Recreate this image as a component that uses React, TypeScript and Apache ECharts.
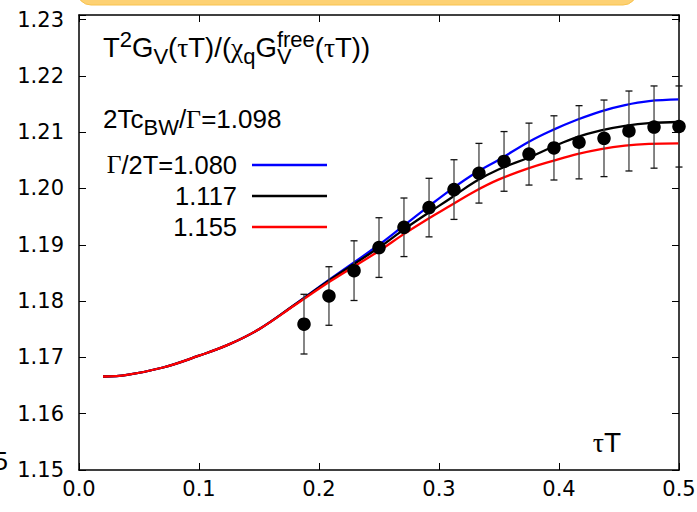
import React, { useEffect, useRef } from 'react';
import * as echarts from 'echarts';

// ---- data ----
const tauT = [0.1875, 0.2083, 0.2292, 0.25, 0.2708, 0.2917, 0.3125, 0.3333, 0.3542, 0.375, 0.3958, 0.4167, 0.4375, 0.4583, 0.4792, 0.5];
const corr = [1.1759, 1.1809, 1.1854, 1.1895, 1.1931, 1.1966, 1.1998, 1.2027, 1.2048, 1.2061, 1.2072, 1.2082, 1.2089, 1.2102, 1.2109, 1.2110];
const corrErr = [0.0053, 0.0052, 0.0053, 0.0053, 0.0052, 0.0052, 0.0053, 0.0053, 0.0053, 0.0055, 0.0057, 0.0065, 0.0068, 0.0071, 0.0073, 0.0072];

const curveX = [0.02, 0.04, 0.07, 0.1, 0.125, 0.15, 0.18, 0.21, 0.25, 0.27, 0.29, 0.31, 0.33, 0.35, 0.375, 0.395, 0.415, 0.435, 0.455, 0.475, 0.5];
const blueCurve = [1.1666, 1.1669, 1.1682, 1.1703, 1.1723, 1.175, 1.1794, 1.184, 1.19, 1.1933, 1.1966, 1.1998, 1.2027, 1.2051, 1.2083, 1.2104, 1.2122, 1.2137, 1.2148, 1.2155, 1.2158];
const blackCurve = [1.1666, 1.1669, 1.1682, 1.1703, 1.1723, 1.175, 1.1794, 1.1839, 1.1895, 1.1926, 1.1955, 1.1983, 1.2012, 1.2034, 1.2055, 1.2074, 1.2091, 1.2103, 1.2111, 1.2116, 1.2118];
const redCurve = [1.1666, 1.1669, 1.1682, 1.1703, 1.1723, 1.175, 1.1793, 1.1836, 1.1889, 1.1918, 1.1945, 1.197, 1.1995, 1.2016, 1.2036, 1.2049, 1.2061, 1.207, 1.2076, 1.2079, 1.208];

const curveNames = ['Γ/2T=1.080', '1.117', '1.155'];
const curveColors = ['#0000ff', '#000000', '#ff0000'];

const SANS = 'Liberation Sans';
const SERIF = 'Liberation Serif';
const TICKFONT = 'DejaVu Sans';

type Seg = { t: string; serif?: boolean; sub?: boolean; sup?: boolean; keep?: boolean };

let measureCtx: CanvasRenderingContext2D | null = null;
function textWidth(t: string, size: number, family: string) {
  if (!measureCtx) measureCtx = document.createElement('canvas').getContext('2d');
  if (!measureCtx) return t.length * size * 0.55;
  measureCtx.font = `${size}px "${family}"`;
  return measureCtx.measureText(t).width;
}

function segInfo(s: Seg, main: number, small: number) {
  const size = s.sub || s.sup ? small : main;
  const family = s.serif ? SERIF : SANS;
  const dy = s.sup ? -10 : s.sub ? 7 : 0;
  return { size, family, dy, w: textWidth(s.t, size, family) };
}

function lineWidthOf(segs: Seg[], main: number, small: number) {
  let x = 0;
  let pending = 0;
  segs.forEach((s) => {
    const inf = segInfo(s, main, small);
    if (s.keep) {
      pending = Math.max(pending, inf.w);
    } else {
      x += Math.max(pending, inf.w);
      pending = 0;
    }
  });
  return x + pending;
}

function buildLine(segs: Seg[], x0: number, base: number, align: 'left' | 'right' = 'left', main = 25, small = 21) {
  let x = align === 'right' ? x0 - lineWidthOf(segs, main, small) : x0;
  let pending = 0;
  const els: any[] = [];
  segs.forEach((s) => {
    const inf = segInfo(s, main, small);
    const yb = base + inf.dy;
    els.push({
      type: 'text',
      silent: true,
      style: {
        text: s.t,
        x,
        y: yb - 0.347 * inf.size,
        fill: '#000',
        fontSize: inf.size,
        fontFamily: inf.family,
        align: 'left',
        verticalAlign: 'middle',
        textAlign: 'left',
        textVerticalAlign: 'middle',
      },
    });
    if (s.keep) {
      pending = Math.max(pending, inf.w);
    } else {
      x += Math.max(pending, inf.w);
      pending = 0;
    }
  });
  return els;
}

function tickFmt(digits: number, step: number) {
  return (v: number) => {
    const k = Math.round(v / step);
    if (Math.abs(v - k * step) > 1e-7) return '';
    return v.toFixed(digits);
  };
}

export default function App() {
  const ref = useRef<HTMLDivElement>(null);

  useEffect(() => {
    if (!ref.current) return;
    const chart = echarts.init(ref.current, undefined, { renderer: 'svg' });

    const curves = [blueCurve, blackCurve, redCurve];

    const axisLine = { show: true, onZero: false, lineStyle: { color: '#000', width: 1.5 } };
    const axisTick = { show: true, inside: true, length: 7, lineStyle: { color: '#000', width: 1 } };

    const graphics: any[] = [
      {
        type: 'rect',
        silent: true,
        shape: { x: 77, y: -40, width: 560, height: 45, r: 14 },
        style: { fill: '#fdd173', stroke: '#f8c24e', lineWidth: 1 },
      },
      {
        type: 'text',
        silent: true,
        style: {
          text: '5', x: 8, y: 470 - 0.347 * 26, fontSize: 26, fontFamily: SANS, fill: '#000',
          align: 'right', verticalAlign: 'middle', textAlign: 'right', textVerticalAlign: 'middle',
        },
      },
      ...buildLine(
        [
          { t: 'T' }, { t: '2', sup: true }, { t: 'G' }, { t: 'V', sub: true }, { t: '(' },
          { t: 'τ', serif: true }, { t: 'T)/(' }, { t: 'χ', serif: true }, { t: 'q', sub: true },
          { t: 'G' }, { t: 'free', sup: true, keep: true }, { t: 'V', sub: true }, { t: '(' },
          { t: 'τ', serif: true }, { t: 'T))' },
        ],
        103, 57, 'left', 27.5, 22
      ),
      ...buildLine(
        [{ t: '2Tc' }, { t: 'BW', sub: true }, { t: '/' }, { t: 'Γ', serif: true }, { t: '=1.098' }],
        103, 128.5, 'left', 26, 22
      ),
      ...buildLine([{ t: 'Γ', serif: true }, { t: curveNames[0].slice(1) }], 237, 173.5, 'right', 25.5, 21),
      ...buildLine([{ t: curveNames[1] }], 237, 204.5, 'right', 25.5, 21),
      ...buildLine([{ t: curveNames[2] }], 237, 235.5, 'right', 25.5, 21),
      ...buildLine([{ t: 'τ', serif: true }, { t: 'T' }], 621, 452, 'right', 28, 22),
    ];
    [165, 196, 227].forEach((y, i) => {
      graphics.push({
        type: 'line',
        silent: true,
        shape: { x1: 252, y1: y, x2: 327, y2: y },
        style: { stroke: curveColors[i], lineWidth: 2.3 },
      });
    });

    const option: any = {
      animation: false,
      backgroundColor: '#ffffff',
      grid: { left: 79, right: 18, top: 15, bottom: 42, containLabel: false, outerBoundsMode: 'none' },
      xAxis: [
        {
          type: 'value', min: 0, max: 0.5, interval: 0.1, position: 'bottom',
          axisLine, axisTick,
          axisLabel: { fontSize: 21, fontFamily: TICKFONT, color: '#000', margin: 8, formatter: tickFmt(1, 0.1), showMinLabel: true, showMaxLabel: true },
          splitLine: { show: false },
        },
        {
          type: 'value', min: 0, max: 0.5, interval: 0.1, position: 'top',
          axisLine, axisTick, axisLabel: { show: false }, splitLine: { show: false },
        },
      ],
      yAxis: [
        {
          type: 'value', min: 1.15, max: 1.2308, interval: 0.01, position: 'left',
          axisLine, axisTick,
          axisLabel: { fontSize: 21, fontFamily: TICKFONT, color: '#000', margin: 15, formatter: tickFmt(2, 0.01) },
          splitLine: { show: false },
        },
        {
          type: 'value', min: 1.15, max: 1.2308, interval: 0.01, position: 'right',
          axisLine, axisTick, axisLabel: { show: false }, splitLine: { show: false },
        },
      ],
      series: [
        ...curves.map((c, i) => ({
          name: curveNames[i],
          type: 'line',
          data: curveX.map((x, j) => [x, c[j]]),
          showSymbol: false,
          symbol: 'none',
          smooth: 0.4,
          lineStyle: { color: curveColors[i], width: 2.3 },
          itemStyle: { color: curveColors[i] },
          z: 2,
        })),
        {
          type: 'custom',
          data: tauT.map((x, i) => [x, corr[i] - corrErr[i], corr[i] + corrErr[i]]),
          encode: { x: 0, y: [1, 2] },
          clip: false,
          z: 3,
          renderItem: (_p: any, api: any) => {
            const x = api.value(0);
            const lo = api.coord([x, api.value(1)]);
            const hi = api.coord([x, api.value(2)]);
            const cap = 3.5;
            return {
              type: 'group',
              children: [
                { type: 'line', shape: { x1: lo[0], y1: lo[1], x2: hi[0], y2: hi[1] }, style: { stroke: '#444', lineWidth: 1.3 } },
                { type: 'line', shape: { x1: lo[0] - cap, y1: lo[1], x2: lo[0] + cap, y2: lo[1] }, style: { stroke: '#111', lineWidth: 1.3 } },
                { type: 'line', shape: { x1: hi[0] - cap, y1: hi[1], x2: hi[0] + cap, y2: hi[1] }, style: { stroke: '#111', lineWidth: 1.3 } },
              ],
            };
          },
        },
        {
          type: 'scatter',
          data: tauT.map((x, i) => [x, corr[i]]),
          symbol: 'circle',
          symbolSize: 13.5,
          itemStyle: { color: '#000', opacity: 1 },
          clip: false,
          z: 4,
        },
      ],
      graphic: { elements: graphics },
    };

    chart.setOption(option);
    return () => chart.dispose();
  }, []);

  return <div ref={ref} style={{ position: 'fixed', left: 0, top: 0, width: 697, height: 512, background: '#fff' }} />;
}
